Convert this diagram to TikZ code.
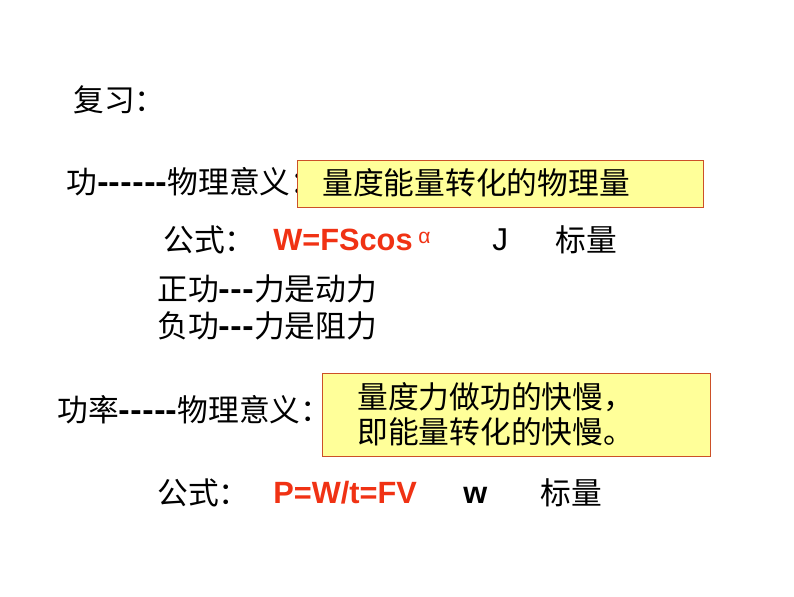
\documentclass[tikz,border=0pt]{standalone}
\usepackage{fontspec}
\setmainfont{Liberation Sans}
\newfontfamily\cjk{Noto Sans CJK SC}
\usetikzlibrary{positioning}
\definecolor{boxfill}{RGB}{255,255,153}
\definecolor{boxline}{RGB}{204,80,40}
\definecolor{formred}{RGB}{240,50,20}
\tikzset{
  txt/.style={anchor=west, inner sep=0pt, font=\fontsize{17.5}{21}\selectfont\cjk},
  formula/.style={anchor=west, inner sep=0pt, text=formred, font=\fontsize{17.5}{21}\selectfont\bfseries},
  meaning/.style={draw=boxline, fill=boxfill, line width=0.8pt, anchor=north west, inner sep=0pt}
}
\begin{document}
\begin{tikzpicture}[x=0.02cm, y=-0.02cm]
\useasboundingbox (0,0) rectangle (794,596);

\node (review) [txt] at (73,100) {复习：};

% work
\node (work) [txt] at (66,182) {功\textbf{------}物理意义：};
\node (box1) [meaning, minimum width=8.12cm, minimum height=0.94cm] at (297,160) {};
\node (mean1) [txt] at (322,183) {量度能量转化的物理量};
\node (form1) [txt] at (163,240) {公式：};
\node (eq1) [formula] at (273,240) {W=FScos};
\node (alpha) [anchor=west, inner sep=0pt, text=formred, font=\fontsize{12}{14}\selectfont] at (418,238) {α};
\node (unit1) [anchor=west, inner sep=0pt, font=\fontsize{18}{21}\selectfont\rmfamily] at (492,240) {J};
\node (scal1) [txt] at (555,240) {标量};
\node (pos) [txt] at (157,289) {正功\textbf{---}力是动力};
\node (neg) [txt] at (157,326) {负功\textbf{---}力是阻力};

% power
\node (power) [txt] at (57,410) {功率\textbf{-----}物理意义：};
\node (box2) [meaning, minimum width=7.76cm, minimum height=1.66cm] at (322,373) {};
\node (mean2) [txt] at (357,397) {量度力做功的快慢，};
\node (mean3) [txt] at (357,432) {即能量转化的快慢。};
\node (form2) [txt] at (157,493) {公式：};
\node (eq2) [formula] at (273,493) {P=W/t=FV};
\node (unit2) [anchor=west, inner sep=0pt, font=\fontsize{17.5}{21}\selectfont\bfseries] at (463,495) {w};
\node (scal2) [txt] at (540,493) {标量};
\end{tikzpicture}
\end{document}
